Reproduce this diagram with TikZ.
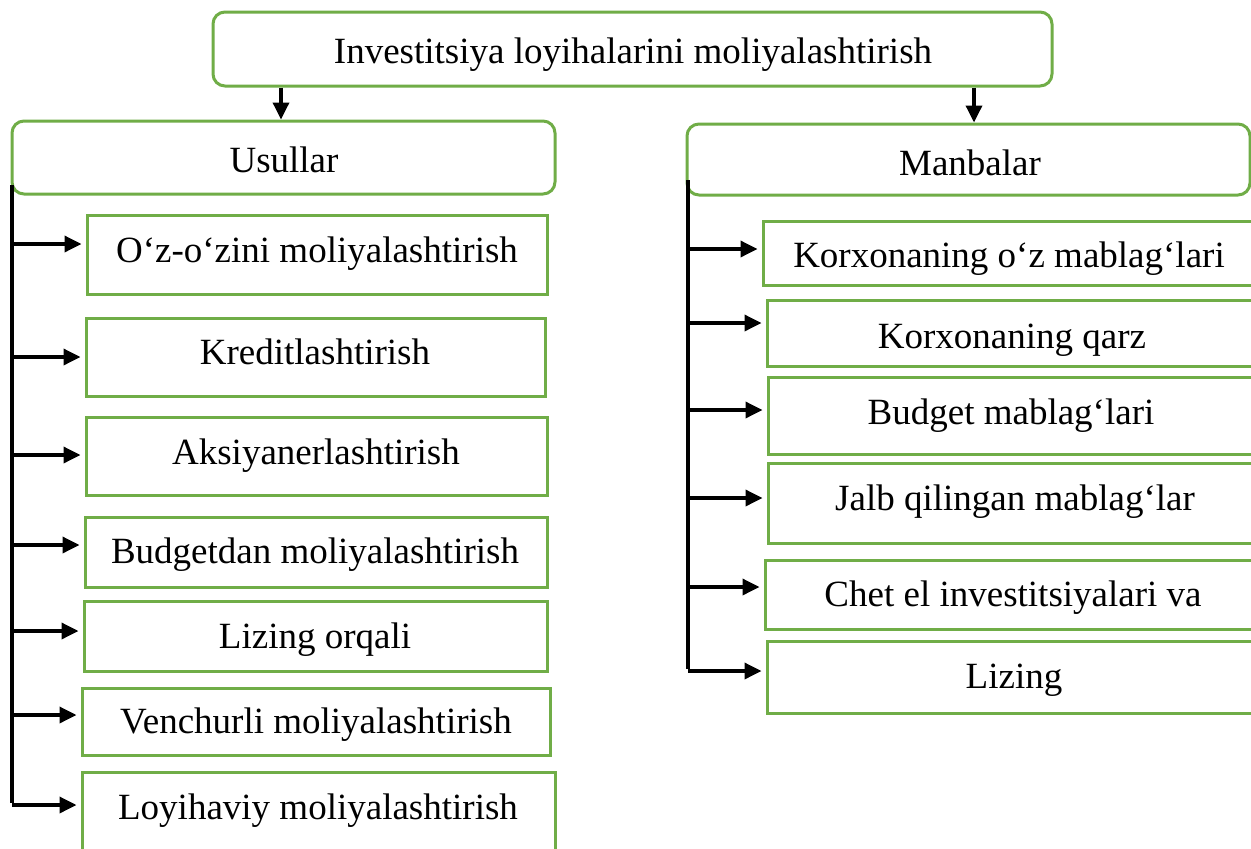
\documentclass[tikz,border=0pt]{standalone}
\usepackage{fontspec}
\setmainfont{Liberation Serif}
\usetikzlibrary{arrows.meta}
\definecolor{boxgreen}{RGB}{112,173,71}
\begin{document}
\begin{tikzpicture}[x=1pt,y=-1pt,
  gbox/.style={draw=boxgreen, line width=3pt, rectangle, inner sep=0pt},
  rbox/.style={gbox, rounded corners=12pt},
  lbl/.style={font=\fontsize{37}{41}\selectfont, inner sep=0pt, anchor=base},
  conn/.style={line width=3.5pt, -{Triangle[length=17pt,width=16pt]}, shorten >=4pt},
  trunkline/.style={line width=3.5pt}]
\clip (0,0) rectangle (1251,849);
\fill[white] (0,0) rectangle (1251,849);
% top and headers
\node[rbox, minimum width=839pt, minimum height=74pt] (top) at (632.5,49) {};
\node[lbl] (ttop) at (633,63) {Investitsiya loyihalarini moliyalashtirish};
\node[rbox, minimum width=543pt, minimum height=73pt] (usul) at (283.5,157.5) {};
\node[lbl] (tusul) at (284,172) {Usullar};
\node[rbox, minimum width=563pt, minimum height=71pt] (manb) at (968.5,159.5) {};
\node[lbl] (tmanb) at (970,175) {Manbalar};
\draw[conn, shorten >=0pt] ([xshift=-2.5pt]top.south -| usul.north) -- ([xshift=-2.5pt]usul.north);
\draw[conn, shorten >=0pt] ([xshift=5.5pt]top.south -| manb.north) -- ([xshift=5.5pt]manb.north);
% left boxes
\node[gbox, minimum width=460pt, minimum height=79pt] (L1) at (317,254.5) {};
\node[lbl] (tL1) at (317,262) {O‘z-o‘zini moliyalashtirish};
\node[gbox, minimum width=459pt, minimum height=78pt] (L2) at (315.5,357) {};
\node[lbl] (tL2) at (315,364) {Kreditlashtirish};
\node[gbox, minimum width=461pt, minimum height=78pt] (L3) at (316.5,456) {};
\node[lbl] (tL3) at (316,464) {Aksiyanerlashtirish};
\node[gbox, minimum width=462pt, minimum height=70pt] (L4) at (316,552) {};
\node[lbl] (tL4) at (315,563) {Budgetdan moliyalashtirish};
\node[gbox, minimum width=463pt, minimum height=70pt] (L5) at (315.5,636) {};
\node[lbl] (tL5) at (315,648) {Lizing orqali};
\node[gbox, minimum width=468pt, minimum height=67pt] (L6) at (316,721.5) {};
\node[lbl] (tL6) at (316,733) {Venchurli moliyalashtirish};
\node[gbox, minimum width=473pt, minimum height=98pt] (L7) at (318.5,821) {};
\node[lbl] (tL7) at (318,819) {Loyihaviy moliyalashtirish};
% right boxes
\node[gbox, minimum width=493pt, minimum height=64pt] (R1) at (1009.5,253) {};
\node[lbl] (tR1) at (1009,267) {Korxonaning o‘z mablag‘lari};
\node[gbox, minimum width=489pt, minimum height=66pt] (R2) at (1011.5,333) {};
\node[lbl] (tR2) at (1012,348) {Korxonaning qarz};
\node[gbox, minimum width=488pt, minimum height=77pt] (R3) at (1012,415.5) {};
\node[lbl] (tR3) at (1011,424) {Budget mablag‘lari};
\node[gbox, minimum width=488pt, minimum height=80pt] (R4) at (1012,503) {};
\node[lbl] (tR4) at (1015,510) {Jalb qilingan mablag‘lar};
\node[gbox, minimum width=491pt, minimum height=69pt] (R5) at (1010.5,594.5) {};
\node[lbl] (tR5) at (1013,606) {Chet el investitsiyalari va};
\node[gbox, minimum width=489pt, minimum height=72pt] (R6) at (1011.5,677) {};
\node[lbl] (tR6) at (1014,688) {Lizing};
% left trunk
\coordinate (ltop) at (12,185);
\coordinate (la1) at (12,244);
\coordinate (la2) at (12,357);
\coordinate (la3) at (12,455);
\coordinate (la4) at (12,545);
\coordinate (la5) at (12,631);
\coordinate (la6) at (12,715);
\coordinate (la7) at (12,805);
\draw[trunkline] (ltop) -- ([yshift=1.75pt]la7);
\foreach \i in {1,...,7} {\draw[conn] (la\i) -- (la\i -| L\i.west);}
% right trunk
\coordinate (rtop) at (688,180);
\coordinate (ra1) at (688,249);
\coordinate (ra2) at (688,323);
\coordinate (ra3) at (688,410);
\coordinate (ra4) at (688,498);
\coordinate (ra5) at (688,587);
\coordinate (ra6) at (688,671);
\draw[trunkline] (rtop) -- ([yshift=1.75pt]ra6);
\foreach \i in {1,...,6} {\draw[conn] (ra\i) -- (ra\i -| R\i.west);}
\end{tikzpicture}
\end{document}
